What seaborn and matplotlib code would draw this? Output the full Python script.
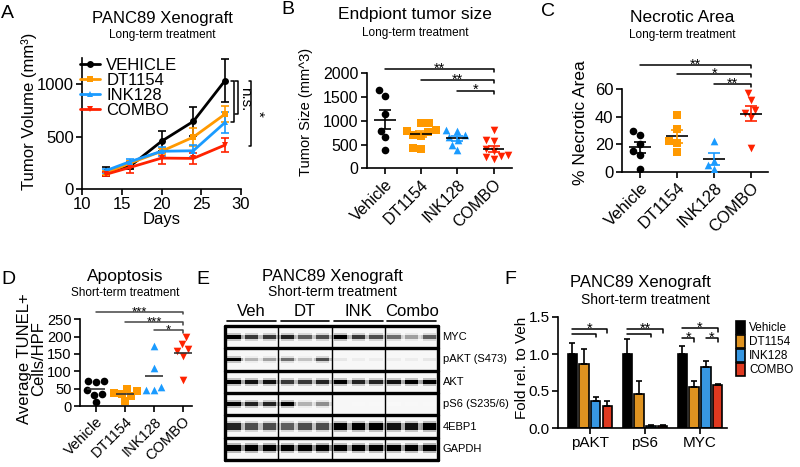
import numpy as np
import pandas as pd
import seaborn as sns
import matplotlib.pyplot as plt

W, H = 800, 467

groups = ['VEHICLE', 'DT1154', 'INK128', 'COMBO']
cats = ['Vehicle', 'DT1154', 'INK128', 'COMBO']
colors = ['#000000', '#FF9900', '#1A9BFF', '#FF2200']
markers = ['o', 's', '^', 'v']

# A: tumour growth, mean and SEM per day
days = [13, 16, 20, 24, 28]
vol_vehicle = [165, 215, 455, 645, 1035]
vol_dt1154 = [150, 245, 360, 495, 715]
vol_ink128 = [175, 260, 360, 365, 635]
vol_combo = [140, 205, 295, 292, 420]
sem_vehicle = [45, 20, 95, 135, 205]
sem_dt1154 = [20, 20, 30, 85, 80]
sem_ink128 = [20, 25, 45, 55, 100]
sem_combo = [20, 50, 60, 55, 65]

# B: endpoint tumour size
size_vehicle = [1650, 1530, 1140, 790, 650, 390]
size_dt1154 = [960, 950, 810, 790, 760, 700, 680, 420, 400]
size_ink128 = [800, 790, 700, 650, 600, 500, 380]
size_combo = [800, 590, 580, 400, 360, 290, 250, 230, 190]

# C: necrotic area
necro_vehicle = [30, 27, 20, 15, 12, 2]
necro_dt1154 = [41, 31, 22, 21, 14]
necro_ink128 = [22, 8, 5, 2]
necro_combo = [57, 52, 45, 43, 40, 17]

# D: TUNEL+ cells
tunel_vehicle = [73, 72, 68, 45, 35, 33, 12]
tunel_dt1154 = [50, 42, 38, 35, 30, 15]
tunel_ink128 = [173, 109, 55, 45, 45]
tunel_combo = [198, 179, 163, 159, 145, 75]

# E: western blot band darkness (12 lanes: Veh, DT, INK, Combo x3)
blot_proteins = ['MYC', 'pAKT (S473)', 'AKT', 'pS6 (S235/6)', '4EBP1', 'GAPDH']
blot_groups = ['Veh', 'DT', 'INK', 'Combo']
band_myc = [0.85, 0.7, 0.7, 0.75, 0.6, 0.65, 0.85, 0.7, 0.65, 0.55, 0.4, 0.6]
band_pakt = [0.85, 0.35, 0.4, 0.55, 0.3, 0.65, 0.15, 0.12, 0.12, 0.12, 0.12, 0.15]
band_akt = [0.85, 0.8, 0.8, 0.7, 0.7, 0.75, 0.85, 0.75, 0.75, 0.8, 0.85, 0.9]
band_ps6 = [0.9, 0.75, 0.75, 0.85, 0.35, 0.45, 0.06, 0.05, 0.05, 0.04, 0.05, 0.05]
band_4ebp1 = [0.75, 0.65, 0.65, 0.6, 0.65, 0.65, 0.85, 0.85, 0.85, 0.8, 0.8, 0.9]
band_gapdh = [0.95, 0.95, 0.95, 0.9, 0.95, 1.0, 0.9, 0.9, 0.9, 0.85, 0.9, 1.0]

# F: quantified blot, fold relative to vehicle
targets = ['pAKT', 'pS6', 'MYC']
fold_vehicle = [1.0, 1.0, 1.0]
fold_dt1154 = [0.87, 0.46, 0.56]
fold_ink128 = [0.36, 0.03, 0.82]
fold_combo = [0.30, 0.03, 0.58]
err_vehicle = [0.15, 0.20, 0.11]
err_dt1154 = [0.20, 0.17, 0.07]
err_ink128 = [0.06, 0.01, 0.08]
err_combo = [0.06, 0.01, 0.02]

sns.set_style('ticks')
plt.rcParams['font.family'] = ['Liberation Sans', 'DejaVu Sans']
plt.rcParams.update({
    'axes.linewidth': 1.2, 'axes.edgecolor': 'black',
    'xtick.major.width': 1.2, 'ytick.major.width': 1.2,
    'xtick.major.size': 4, 'ytick.major.size': 4,
    'xtick.color': 'black', 'ytick.color': 'black',
    'xtick.major.pad': 2, 'ytick.major.pad': 2,
    'text.color': 'black', 'axes.labelcolor': 'black',
})

fig = plt.figure(figsize=(8, 4.67), dpi=100)


def px_axes(l, t, r, b):
    return fig.add_axes([l / W, 1 - b / H, (r - l) / W, (b - t) / H])


def ftext(x, y, s, **kw):
    kw.setdefault('ha', 'center')
    kw.setdefault('va', 'center')
    fig.text(x / W, 1 - y / H, s, **kw)


def hbracket(ax, x1, x2, y, drop, label, fs, color='black'):
    ax.plot([x1, x2, x2], [y, y, y - drop], color=color, lw=1.1, clip_on=False)
    if label:
        ax.annotate(label, xy=((x1 + x2) / 2, y), xytext=(0, -2.5),
                    textcoords='offset points', ha='center', va='baseline',
                    fontsize=fs, annotation_clip=False)


def scatter_panel(ax, values, fs, sem=True):
    rows = [(c, v) for c, vals in zip(cats, values) for v in vals]
    df = pd.DataFrame(rows, columns=['group', 'value'])
    for c, col, m in zip(cats, colors, markers):
        sub = df[df.group == c]
        sns.swarmplot(x=sub.group, y=sub.value, order=cats, marker=m, color=col,
                      size=5.5, ax=ax)
    stats = df.groupby('group')['value'].agg(['mean', 'sem']).reindex(cats)
    for i, (c, col) in enumerate(zip(cats, colors)):
        ax.hlines(stats.loc[c, 'mean'], i - 0.3, i + 0.3,
                  color='black' if sem else '#333333', lw=1.2, zorder=5)
        if sem:
            ax.errorbar(i, stats.loc[c, 'mean'], yerr=stats.loc[c, 'sem'],
                        fmt='none', ecolor=col, elinewidth=1.2, capsize=4.5,
                        capthick=1.2, zorder=5)
    ax.set_xticks(range(len(cats)))
    ax.set_xticklabels(cats, rotation=45, ha='right', rotation_mode='anchor',
                       fontsize=fs)
    ax.tick_params(axis='y', labelsize=fs)
    ax.set_xlabel('')
    sns.despine(ax=ax)


# ---------------- A ----------------
axA = px_axes(82, 58, 241, 189)
rows = []
for g, m, s in zip(groups, [vol_vehicle, vol_dt1154, vol_ink128, vol_combo],
                   [sem_vehicle, sem_dt1154, sem_ink128, sem_combo]):
    for d, v, e in zip(days, m, s):
        rows.append((g, d, v, e))
dfA = pd.DataFrame(rows, columns=['group', 'day', 'vol', 'sem'])
for g, c in zip(groups, colors):
    sub = dfA[dfA.group == g]
    axA.errorbar(sub.day, sub.vol, yerr=sub['sem'], fmt='none', ecolor=c,
                 elinewidth=1.2, capsize=3, capthick=1.2)
sns.lineplot(data=dfA, x='day', y='vol', hue='group', style='group',
             hue_order=groups, style_order=groups, palette=colors,
             markers=markers, dashes=False, linewidth=2, markersize=5,
             markeredgewidth=0, errorbar=None, ax=axA)
h, l = axA.get_legend_handles_labels()
keep = [(hh, ll) for hh, ll in zip(h, l) if ll in groups]
axA.legend([k[0] for k in keep], [k[1] for k in keep], loc='upper left',
           bbox_to_anchor=(-0.01, 1.0), frameon=False, fontsize=12,
           handlelength=1.2, handletextpad=0.35, labelspacing=0.0,
           borderpad=0, borderaxespad=0)
axA.set_xlim(10, 30)
axA.set_ylim(0, 1250)
axA.set_xticks([10, 15, 20, 25, 30])
axA.set_yticks([0, 500, 1000])
axA.tick_params(labelsize=12)
axA.set_xlabel('Days', fontsize=12, labelpad=0)
axA.set_ylabel('Tumor Volume (mm³)', fontsize=12)
axA.yaxis.set_label_coords(-0.28, 0.595)
sns.despine(ax=axA)
for x, y1, y2 in [(29.1, 1035, 635), (29.6, 1035, 714), (31.3, 1035, 410)]:
    axA.plot([x - 0.35, x, x, x - 0.35], [y1, y1, y2, y2], color='black',
             lw=1.1, clip_on=False)
axA.text(30.5, 860, 'n.s.', rotation=270, ha='center', va='center', fontsize=11)
axA.text(32.1, 720, '*', rotation=270, ha='center', va='center', fontsize=11)
ftext(7, 13, 'A', fontsize=14)
ftext(162, 18, 'PANC89 Xenograft', fontsize=12)
ftext(162, 35, 'Long-term treatment', fontsize=8.5)

# ---------------- B ----------------
axB = px_axes(366.7, 73.3, 511.7, 168.3)
scatter_panel(axB, [size_vehicle, size_dt1154, size_ink128, size_combo], 11.5)
axB.set_xlim(-0.5, 3.5)
axB.set_ylim(0, 2000)
axB.set_yticks([0, 500, 1000, 1500, 2000])
axB.set_ylabel('Tumor Size (mm^3)', fontsize=10.5)
axB.yaxis.set_label_coords(-0.37, 0.59)
hbracket(axB, 0, 3, 2090, 70, '**', 10.5)
hbracket(axB, 1, 3, 1858, 70, '**', 10.5)
hbracket(axB, 2, 3, 1633, 70, '*', 10.5)
ftext(288, 10, 'B', fontsize=14)
ftext(415, 15, 'Endpiont tumor size', fontsize=12.5)
ftext(415, 33, 'Long-term treatment', fontsize=8.5)

# ---------------- C ----------------
axC = px_axes(621.7, 89.3, 768, 171.7)
scatter_panel(axC, [necro_vehicle, necro_dt1154, necro_ink128, necro_combo], 12)
axC.set_xlim(-0.5, 3.45)
axC.set_ylim(0, 60)
axC.set_yticks([0, 20, 40, 60])
axC.set_ylabel('% Necrotic Area', fontsize=12.5)
axC.yaxis.set_label_coords(-0.23, 0.6)
hbracket(axC, 0, 3, 77.8, 2.2, '**', 10.5)
hbracket(axC, 1, 3, 71, 2.2, '*', 10.5)
hbracket(axC, 2, 3, 63.7, 2.2, '**', 10.5)
ftext(548, 12, 'C', fontsize=14)
ftext(682, 18, 'Necrotic Area', fontsize=12.5)
ftext(682, 35, 'Long-term treatment', fontsize=8.5)

# ---------------- D ----------------
axD = px_axes(80, 319.3, 191.7, 406)
scatter_panel(axD, [tunel_vehicle, tunel_dt1154, tunel_ink128, tunel_combo],
              10.5, sem=False)
axD.set_xlim(-0.55, 3.3)
axD.set_ylim(0, 250)
axD.set_yticks([0, 50, 100, 150, 200, 250])
axD.set_ylabel('Average TUNEL+\nCells/HPF', fontsize=12, linespacing=0.95)
axD.yaxis.set_label_coords(-0.3, 0.55)
hbracket(axD, 0, 3, 272, 8, '***', 9.5, '#444444')
hbracket(axD, 1, 3, 243, 8, '***', 9.5, '#444444')
hbracket(axD, 2, 3, 219, 8, '*', 9.5, '#444444')
ftext(8, 280, 'D', fontsize=14)
ftext(125, 277, 'Apoptosis', fontsize=12.5)
ftext(125, 293, 'Short-term treatment', fontsize=8.5)

# ---------------- E ----------------
axE = px_axes(225, 326, 438.3, 460)
blot = [band_myc, band_pakt, band_akt, band_ps6, band_4ebp1, band_gapdh]
band_thick = [2, 2, 2, 2, 4, 3]
sub_r, sub_c, bg = 12, 8, 0.06
img = np.full((len(blot) * sub_r, 12 * sub_c), bg)
for i, lanes in enumerate(blot):
    t = band_thick[i]
    r0 = i * sub_r + (sub_r - t) // 2
    for j, v in enumerate(lanes):
        c0, c1 = j * sub_c + 1, (j + 1) * sub_c - 1
        img[r0:r0 + t, c0:c1] = v
        img[r0 - 1, c0:c1] = max(bg, v * 0.35)
        img[r0 + t, c0:c1] = max(bg, v * 0.35)
        img[r0:r0 + t, c0 - 1] = max(bg, v * 0.45)
        img[r0:r0 + t, c1] = max(bg, v * 0.45)
sns.heatmap(img, cmap='Greys', vmin=0, vmax=0.85, cbar=False,
            xticklabels=False, yticklabels=False, ax=axE)
for i in range(len(blot) + 1):
    axE.axhline(i * sub_r, color='black', lw=2.4, clip_on=False)
for k in range(5):
    axE.axvline(k * 3 * sub_c, color='black', lw=2.4 if k in (0, 4) else 1,
                clip_on=False)
for i, name in enumerate(blot_proteins):
    axE.text(1.02, (i + 0.5) * sub_r, name, transform=axE.get_yaxis_transform(),
             ha='left', va='center', fontsize=8)
for k, name in enumerate(blot_groups):
    x0, x1 = k * 3 * sub_c + 1, (k + 1) * 3 * sub_c - 1
    axE.plot([x0, x1], [-2.9, -2.9], color='black', lw=1.2, clip_on=False)
    axE.text((x0 + x1) / 2, -3.6, name, ha='center', va='bottom', fontsize=12)
ftext(203, 280, 'E', fontsize=14)
ftext(332, 277, 'PANC89 Xenograft', fontsize=12)
ftext(332, 292, 'Short-term treatment', fontsize=10)

# ---------------- F ----------------
axF = px_axes(558, 317, 727, 428)
rows = []
for g, vals in zip(cats, [fold_vehicle, fold_dt1154, fold_ink128, fold_combo]):
    for t, v in zip(targets, vals):
        rows.append((t, g, v))
dfF = pd.DataFrame(rows, columns=['target', 'group', 'value'])
sns.barplot(data=dfF, x='target', y='value', hue='group', order=targets,
            hue_order=cats, palette=colors, edgecolor='black', linewidth=1.2,
            width=0.85, gap=0.2, errorbar=None, ax=axF)
errs = [err_vehicle, err_dt1154, err_ink128, err_combo]
centers = []
for cont, ee in zip(axF.containers, errs):
    xs = [b.get_x() + b.get_width() / 2 for b in cont]
    hs = [b.get_height() for b in cont]
    centers.append(xs)
    axF.errorbar(xs, hs, yerr=[np.zeros(len(ee)), ee], fmt='none',
                 ecolor='black', elinewidth=1.2, capsize=2.5, capthick=1.2)
axF.legend(loc='upper left', bbox_to_anchor=(736 / W, 1 - 321 / H),
           bbox_transform=fig.transFigure, frameon=False, fontsize=8.5,
           handlelength=0.8, handleheight=1.3, handletextpad=0.3,
           labelspacing=0.05, borderpad=0, borderaxespad=0)
axF.set_xlim(-0.58, 2.49)
axF.set_ylim(0, 1.5)
axF.set_yticks([0, 0.5, 1.0, 1.5])
axF.set_yticklabels(['0.0', '0.5', '1.0', '1.5'])
axF.tick_params(labelsize=11)
axF.set_xlabel('')
axF.set_ylabel('Fold rel. to Veh', fontsize=11)
axF.yaxis.set_label_coords(-0.17, 0.545)
sns.despine(ax=axF)
hbracket(axF, centers[0][0], centers[3][0], 1.335, 0.045, '*', 10.5)
hbracket(axF, centers[0][0], centers[2][0], 1.27, 0.045, None, 10.5)
hbracket(axF, centers[0][1], centers[3][1], 1.335, 0.045, '**', 10.5)
hbracket(axF, centers[0][1], centers[2][1], 1.27, 0.045, None, 10.5)
hbracket(axF, centers[0][2], centers[3][2], 1.345, 0.045, '*', 10.5)
hbracket(axF, centers[0][2], centers[1][2], 1.21, 0.045, '*', 10.5)
hbracket(axF, centers[2][2], centers[3][2], 1.21, 0.045, '*', 10.5)
ftext(510, 280, 'F', fontsize=14)
ftext(640, 283, 'PANC89 Xenograft', fontsize=12)
ftext(645, 300, 'Short-term treatment', fontsize=10)

fig.savefig('out.png', dpi=100)
